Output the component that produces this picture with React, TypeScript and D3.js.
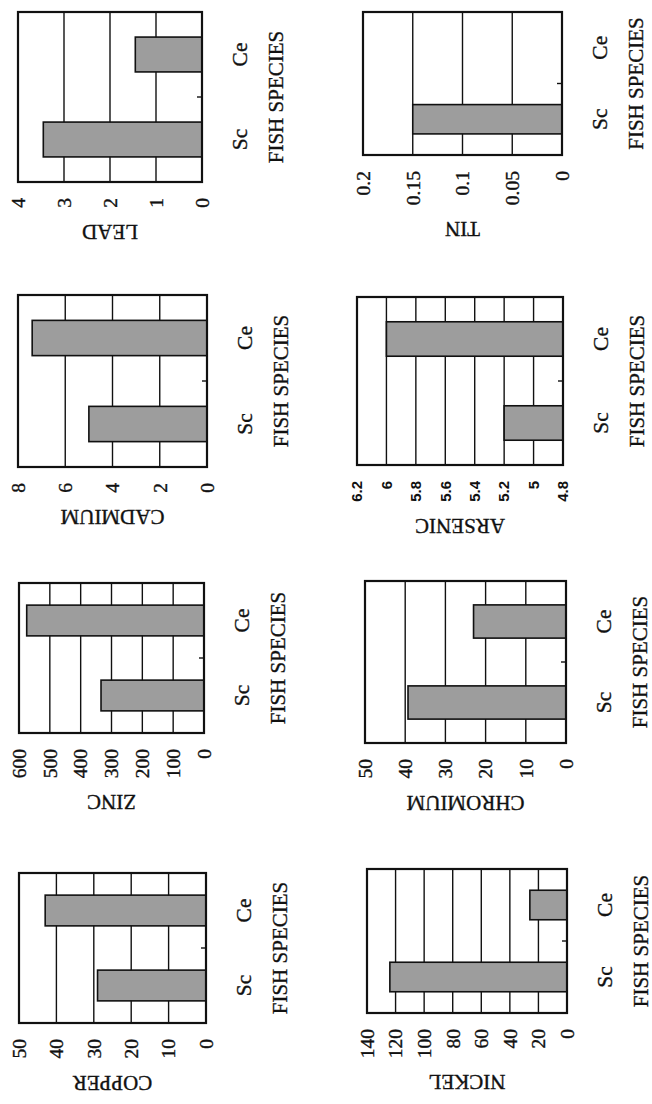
import React, { useEffect, useRef } from "react";
import * as d3 from "d3";

// metal concentrations in two fish species (Sc, Ce)
const metals = ["COPPER", "ZINC", "CADMIUM", "LEAD", "NICKEL", "CHROMIUM", "ARSENIC", "TIN"];
const species = ["Sc", "Ce"];
const scValues = [29, 334, 5, 3.45, 124, 39.3, 5.2, 0.15];
const ceValues = [43, 575, 7.4, 1.45, 26, 23, 6, 0];
const axisMin = [0, 0, 0, 0, 0, 0, 4.8, 0];
const axisMax = [50, 600, 8, 4, 140, 50, 6.2, 0.2];
const tickCounts = [5, 6, 4, 4, 7, 5, 7, 4];
const xTitle = "FISH SPECIES";

// plot frame of every panel on the page (the figure is printed turned on its side)
const frames = [
    [19, 873, 187, 150],
    [19, 583, 185, 150],
    [18, 295, 189, 172],
    [18, 12, 184, 170],
    [367, 869, 200, 144],
    [365, 581, 201, 162],
    [357, 297, 206, 168],
    [363, 12, 199, 143],
];

const W = 652;
const H = 1104;
const serif = "'Liberation Serif', 'Times New Roman', serif";
const ink = "#111";

const App = () => {
    const svgRef = useRef<SVGSVGElement>(null);

    useEffect(() => {
        const svg = d3.select(svgRef.current);
        svg.selectAll("*").remove();

        svg.append("rect").attr("width", W).attr("height", H).attr("fill", "white");

        const fmt = d3.format("~g");

        metals.forEach((metal, i) => {
            const [fx, fy, fw, fh] = frames[i];
            const g = svg.append("g").attr("font-family", serif);

            const x = d3
                .scaleLinear()
                .domain([axisMin[i], axisMax[i]])
                .range([fx + fw, fx]);

            const y = d3
                .scaleBand()
                .domain(["Ce", "Sc"])
                .range([fy, fy + fh])
                .paddingInner(0.59)
                .paddingOuter(0.295);

            const ticks = d3.ticks(axisMin[i], axisMax[i], tickCounts[i]);

            // grid lines
            g.append("g")
                .selectAll("line")
                .data(ticks)
                .join("line")
                .attr("x1", (d) => x(d))
                .attr("x2", (d) => x(d))
                .attr("y1", fy)
                .attr("y2", fy + fh)
                .attr("stroke", ink)
                .attr("stroke-width", 1.4);

            // bars
            const vals = [scValues[i], ceValues[i]];
            const rows = species
                .map((s, k) => ({ s, v: vals[k] }))
                .filter((d) => d.v > axisMin[i]);

            g.append("g")
                .selectAll("rect")
                .data(rows)
                .join("rect")
                .attr("x", (d) => x(d.v))
                .attr("width", (d) => x(axisMin[i]) - x(d.v))
                .attr("y", (d) => y(d.s))
                .attr("height", y.bandwidth())
                .attr("fill", "#9d9d9d")
                .attr("stroke", ink)
                .attr("stroke-width", 1.6);

            // frame
            g.append("rect")
                .attr("x", fx)
                .attr("y", fy)
                .attr("width", fw)
                .attr("height", fh)
                .attr("fill", "none")
                .attr("stroke", ink)
                .attr("stroke-width", 2.2);

            // small tick between the two categories
            const mid = (y("Ce") + y.bandwidth() + y("Sc")) / 2;
            g.append("line")
                .attr("x1", fx + fw - 5)
                .attr("x2", fx + fw)
                .attr("y1", mid)
                .attr("y2", mid)
                .attr("stroke", ink)
                .attr("stroke-width", 1.4);

            // value labels
            const small = metal === "ARSENIC";
            const labels = g
                .append("g")
                .attr("font-size", small ? 15 : 19.5)
                .attr("font-family", small ? "'Liberation Sans', Arial, sans-serif" : serif)
                .attr("font-weight", small ? "bold" : "normal")
                .attr("fill", ink)
                .attr("stroke", ink)
                .attr("stroke-width", small ? 0 : 0.35)
                .selectAll("text")
                .data(ticks)
                .join("text")
                .attr("transform", (d) => `translate(${x(d)},${fy + fh + 16}) rotate(-90)`)
                .attr("text-anchor", "end")
                .attr("dy", "0.35em")
                .text((d) => fmt(d));

            let maxLen = 0;
            labels.each(function () {
                maxLen = Math.max(maxLen, (this as SVGTextElement).getComputedTextLength());
            });

            // metal title, upside down
            g.append("text")
                .attr("transform", `translate(${fx + fw / 2},${fy + fh + 16 + maxLen + 17}) rotate(180)`)
                .attr("text-anchor", "middle")
                .attr("font-size", 21)
                .attr("fill", ink)
                .attr("stroke", ink)
                .attr("stroke-width", 0.35)
                .text(metal);

            // species names
            g.append("g")
                .selectAll("text")
                .data(species)
                .join("text")
                .attr("transform", (d) => `translate(${fx + fw + 45},${y(d) + y.bandwidth() / 2}) rotate(-90)`)
                .attr("text-anchor", "middle")
                .attr("font-size", 21.5)
                .attr("fill", ink)
                .attr("stroke", ink)
                .attr("stroke-width", 0.35)
                .text((d) => d);

            g.append("text")
                .attr("transform", `translate(${fx + fw + 81},${fy + fh / 2}) rotate(-90)`)
                .attr("text-anchor", "middle")
                .attr("font-size", 21)
                .attr("fill", ink)
                .attr("stroke", ink)
                .attr("stroke-width", 0.35)
                .text(xTitle);
        });
    }, []);

    return (
        <svg
            ref={svgRef}
            width={W}
            height={H}
            style={{ position: "absolute", left: 0, top: 0, display: "block" }}
        />
    );
};

export default App;
